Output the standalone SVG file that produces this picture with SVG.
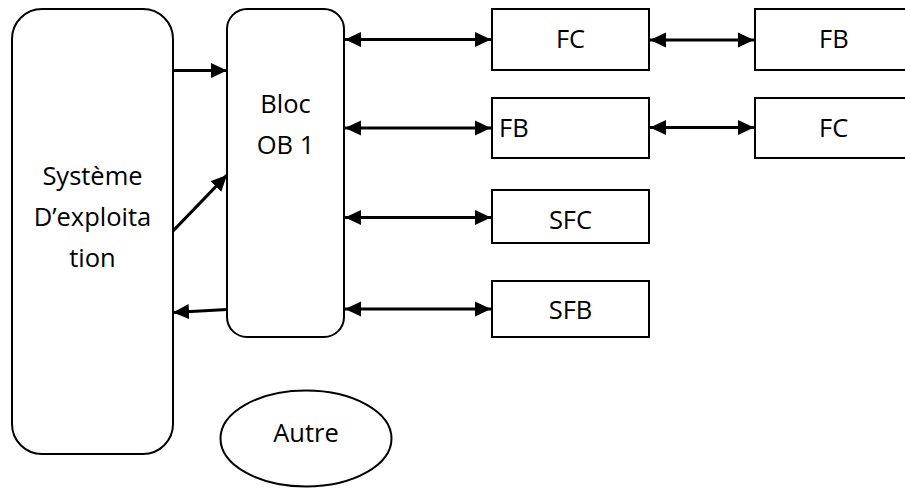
<svg xmlns="http://www.w3.org/2000/svg" width="905" height="488" viewBox="0 0 905 488">
  <style>
    .box { fill: #ffffff; stroke: #000000; stroke-width: 2; }
    .lbl { font-family: "Open Sans", "Noto Sans", sans-serif; font-size: 25.5px; fill: #000000; }
    .mid { text-anchor: middle; }
    .wire { stroke: #000000; stroke-width: 3.2; fill: none; }
    .one { marker-end: url(#head); }
    .two { marker-start: url(#head); marker-end: url(#head); }
  </style>
  <defs>
    <marker id="head" markerUnits="userSpaceOnUse" markerWidth="17" markerHeight="16" refX="16" refY="8" orient="auto-start-reverse">
      <path d="M0,0.5 L16,8 L0,15.5 Z" fill="#000000"/>
    </marker>
  </defs>

  <!-- operating system block -->
  <g id="systeme">
    <rect class="box" x="12" y="9" width="161" height="445" rx="30" ry="30"/>
    <text class="lbl mid" x="92.5" y="185">Système</text>
    <text class="lbl mid" x="92.5" y="226">D’exploita</text>
    <text class="lbl mid" x="92.5" y="267">tion</text>
  </g>

  <!-- main organisation block -->
  <g id="ob1">
    <rect class="box" x="227" y="9" width="117" height="328" rx="20" ry="20"/>
    <text class="lbl mid" x="285.5" y="113">Bloc</text>
    <text class="lbl mid" x="285.5" y="154">OB 1</text>
  </g>

  <g id="fc1">
    <rect class="box" x="492" y="9" width="157" height="61"/>
    <text class="lbl mid" x="570.5" y="48">FC</text>
  </g>
  <g id="fb1">
    <rect class="box" x="755" y="9" width="160" height="61"/>
    <text class="lbl" x="819" y="48">FB</text>
  </g>
  <g id="fb2">
    <rect class="box" x="492" y="98" width="157" height="60"/>
    <text class="lbl" x="499" y="137">FB</text>
  </g>
  <g id="fc2">
    <rect class="box" x="755" y="98" width="160" height="60"/>
    <text class="lbl" x="819" y="137">FC</text>
  </g>
  <g id="sfc">
    <rect class="box" x="492" y="190" width="157" height="53"/>
    <text class="lbl mid" x="570.5" y="229">SFC</text>
  </g>
  <g id="sfb">
    <rect class="box" x="492" y="281" width="157" height="56"/>
    <text class="lbl mid" x="570.5" y="319">SFB</text>
  </g>

  <g id="autre">
    <ellipse class="box" cx="306" cy="438.5" rx="85.5" ry="48"/>
    <text class="lbl mid" x="306" y="442">Autre</text>
  </g>

  <!-- connectors -->
  <g id="connectors">
    <line class="wire one" x1="173" y1="70.5" x2="227" y2="70.5"/>
    <line class="wire one" x1="173" y1="231" x2="227" y2="175"/>
    <line class="wire one" x1="227" y1="309.5" x2="173" y2="312.5"/>
    <line class="wire two" x1="345" y1="39.5" x2="491" y2="39.5"/>
    <line class="wire two" x1="345" y1="128" x2="491" y2="128"/>
    <line class="wire two" x1="345" y1="217.5" x2="491" y2="217.5"/>
    <line class="wire two" x1="345" y1="309" x2="491" y2="309"/>
    <line class="wire two" x1="650" y1="40" x2="754" y2="40"/>
    <line class="wire two" x1="650" y1="127.5" x2="754" y2="127.5"/>
  </g>
</svg>
